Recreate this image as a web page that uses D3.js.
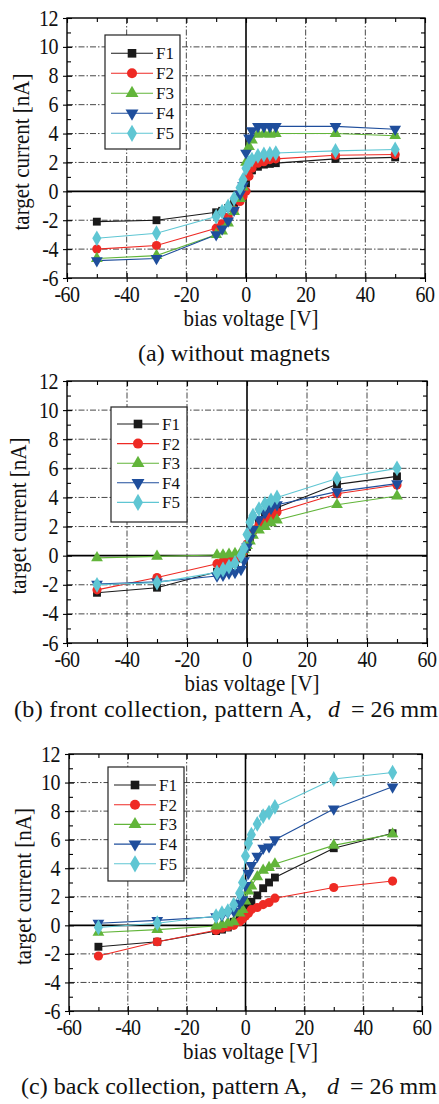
<!DOCTYPE html>
<html><head><meta charset="utf-8">
<script src="https://cdn.jsdelivr.net/npm/d3@7"></script>
<style>html,body{margin:0;padding:0;background:#fff;overflow:hidden}</style>
</head><body>
<script>
// ---- data ----
const voltages = [-50,-30,-10,-8,-6,-4,-2,-1,0,1,2,4,6,8,10,30,50];
const seriesNames = ["F1","F2","F3","F4","F5"];
const xTicks = [-60,-40,-20,0,20,40,60];
const yTicks = [-6,-4,-2,0,2,4,6,8,10,12];

// (a) without magnets
const a_F1 = [-2.1,-2.0,-1.45,-1.35,-1.15,-0.8,-0.35,-0.1,0.55,1.15,1.45,1.7,1.85,1.9,1.95,2.25,2.35];
const a_F2 = [-4.0,-3.75,-2.55,-2.25,-1.8,-1.3,-0.7,-0.35,0.0,1.05,1.6,1.95,2.05,2.2,2.25,2.5,2.55];
const a_F3 = [-4.65,-4.45,-3.0,-2.75,-2.2,-1.4,-0.5,0.3,2.0,3.1,3.55,3.95,4.0,3.95,4.0,4.0,3.85];
const a_F4 = [-4.8,-4.65,-3.0,-2.6,-2.05,-1.3,-0.2,0.4,2.65,3.7,4.2,4.5,4.5,4.5,4.5,4.5,4.3];
const a_F5 = [-3.25,-2.9,-1.75,-1.4,-1.05,-0.5,0.25,0.8,1.6,2.0,2.2,2.45,2.55,2.6,2.65,2.8,2.9];
// (b) front collection
const b_F1 = [-2.55,-2.2,-1.1,-0.95,-0.8,-0.55,-0.2,0.2,0.6,1.2,1.8,2.4,2.7,3.0,3.3,4.9,5.45];
const b_F2 = [-2.35,-1.5,-0.55,-0.4,-0.3,-0.2,-0.05,0.3,0.8,1.3,1.7,2.1,2.4,2.7,3.0,4.25,4.85];
const b_F3 = [-0.15,-0.05,0.05,0.05,0.1,0.15,0.25,0.4,0.7,1.0,1.4,1.75,2.0,2.25,2.45,3.5,4.1];
const b_F4 = [-1.95,-1.8,-1.4,-1.35,-1.2,-1.15,-0.95,-0.35,0.6,1.2,1.8,2.5,2.95,3.25,3.5,4.4,4.95];
const b_F5 = [-2.0,-1.85,-1.15,-0.95,-0.75,-0.5,0.0,0.5,1.45,2.3,2.75,3.2,3.55,3.8,4.0,5.3,6.0];
// (c) back collection
const c_F1 = [-1.5,-1.15,-0.4,-0.3,-0.15,0.25,0.5,0.7,1.2,1.4,1.65,2.1,2.6,3.0,3.35,5.4,6.45];
const c_F2 = [-2.15,-1.15,-0.35,-0.2,-0.1,0.0,0.25,0.45,0.65,0.85,1.1,1.25,1.45,1.6,1.9,2.65,3.1];
const c_F3 = [-0.5,-0.3,-0.05,0.05,0.15,0.25,0.85,1.1,1.7,2.4,2.75,3.4,3.85,4.05,4.3,5.6,6.4];
const c_F4 = [0.15,0.35,0.6,0.7,0.9,1.0,1.55,1.8,2.8,3.65,4.2,4.85,5.4,5.5,6.0,8.15,9.7];
const c_F5 = [-0.15,0.15,0.65,0.85,1.0,1.45,2.25,3.0,4.85,5.75,6.35,7.1,7.65,7.9,8.3,10.25,10.7];

const xLabel = "bias voltage [V]";
const yLabel = "target current [nA]";
const captionA = "(a) without magnets";
const captionB = "(b) front collection, pattern A,";
const captionC = "(c) back collection, pattern A,";
const captionD = "d";
const captionEq = "= 26 mm";

// ---- style / layout ----
const colors = ["#1a1a1a","#ee2a24","#62b53a","#1f4e9c","#5fc6d3"];
const shapes = [d3.symbolSquare, d3.symbolCircle, d3.symbolTriangle, d3.symbolTriangle, d3.symbolDiamond];
const rotations = [0,0,0,180,0];
const sizes = [62,66,60,60,72];
const FONT = "'Liberation Serif','Times New Roman',serif";
const SY = 1.12;

const W = 439, H = 1104;
const svg = d3.select("body").append("svg").attr("width",W).attr("height",H)
  .style("display","block").style("background","#fff");

const panels = [
  {data:[a_F1,a_F2,a_F3,a_F4,a_F5], l:67, r:425, t:18, b:278, lg:{x:105,y:35,w:75,h:114,row0:18.3,dy:20}, ylx:29},
  {data:[b_F1,b_F2,b_F3,b_F4,b_F5], l:67, r:427, t:381, b:643, lg:{x:111,y:407,w:76,h:115,row0:17,dy:19.6}, ylx:26},
  {data:[c_F1,c_F2,c_F3,c_F4,c_F5], l:69, r:422, t:754, b:1011, lg:{x:108,y:767,w:76,h:114,row0:18,dy:19.7}, ylx:31}
];

function stext(g, x, y, str, size, anchor, sy) {
  return g.append("text")
    .attr("transform", `translate(${x},${y}) scale(1,${sy||1})`)
    .attr("font-family", FONT).attr("font-size", size)
    .attr("text-anchor", anchor || "start").attr("fill", "#111").text(str);
}

panels.forEach(p => {
  const g = svg.append("g");
  const x = d3.scaleLinear().domain([-60,60]).range([p.l,p.r]);
  const y = d3.scaleLinear().domain([-6,12]).range([p.b,p.t]);

  // grid (dash-dot)
  const gx = [-40,-20,20,40], gy = [-4,-2,2,4,6,8,10];
  g.selectAll(".gx").data(gx).enter().append("line")
    .attr("x1",d=>x(d)).attr("x2",d=>x(d)).attr("y1",p.t).attr("y2",p.b)
    .attr("stroke","#333").attr("stroke-width",0.9).attr("stroke-dasharray","6,2,1.5,2");
  g.selectAll(".gy").data(gy).enter().append("line")
    .attr("y1",d=>y(d)).attr("y2",d=>y(d)).attr("x1",p.l).attr("x2",p.r)
    .attr("stroke","#333").attr("stroke-width",0.9).attr("stroke-dasharray","6,2,1.5,2");
  // zero lines
  g.append("line").attr("x1",x(0)).attr("x2",x(0)).attr("y1",p.t).attr("y2",p.b)
    .attr("stroke","#000").attr("stroke-width",1.6);
  g.append("line").attr("y1",y(0)).attr("y2",y(0)).attr("x1",p.l).attr("x2",p.r)
    .attr("stroke","#000").attr("stroke-width",1.6);

  // axes with d3 axis generators (ticks)
  const bottomMajor = d3.axisBottom(x).tickValues(xTicks).tickSizeInner(-5).tickSizeOuter(0).tickFormat("");
  const bottomOut = d3.axisBottom(x).tickValues(xTicks).tickSizeInner(4).tickSizeOuter(0).tickFormat("");
  const bottomMinor = d3.axisBottom(x).tickValues(d3.range(-50,60,20)).tickSizeInner(-4).tickSizeOuter(0).tickFormat("");
  const topMajor = d3.axisTop(x).tickValues(xTicks).tickSizeInner(-5).tickSizeOuter(0).tickFormat("");
  const topMinor = d3.axisTop(x).tickValues(d3.range(-50,60,20)).tickSizeInner(-4).tickSizeOuter(0).tickFormat("");
  const leftMajor = d3.axisLeft(y).tickValues(yTicks).tickSizeInner(-5).tickSizeOuter(0).tickFormat("");
  const leftOut = d3.axisLeft(y).tickValues(yTicks).tickSizeInner(4).tickSizeOuter(0).tickFormat("");
  const leftMinor = d3.axisLeft(y).tickValues(d3.range(-5,12,2)).tickSizeInner(-4).tickSizeOuter(0).tickFormat("");
  const rightMajor = d3.axisRight(y).tickValues(yTicks).tickSizeInner(-5).tickSizeOuter(0).tickFormat("");
  const rightMinor = d3.axisRight(y).tickValues(d3.range(-5,12,2)).tickSizeInner(-4).tickSizeOuter(0).tickFormat("");
  [[bottomMajor,`0,${p.b}`],[bottomOut,`0,${p.b}`],[bottomMinor,`0,${p.b}`],
   [topMajor,`0,${p.t}`],[topMinor,`0,${p.t}`],
   [leftMajor,`${p.l},0`],[leftOut,`${p.l},0`],[leftMinor,`${p.l},0`],
   [rightMajor,`${p.r},0`],[rightMinor,`${p.r},0`]].forEach(([ax,tr]) => {
    const a = g.append("g").attr("transform",`translate(${tr})`).call(ax);
    a.select(".domain").remove();
    a.selectAll("line").attr("stroke","#000").attr("stroke-width",1.1);
  });
  // frame
  g.append("rect").attr("x",p.l).attr("y",p.t).attr("width",p.r-p.l).attr("height",p.b-p.t)
    .attr("fill","none").attr("stroke","#000").attr("stroke-width",1.4);

  // tick labels
  xTicks.forEach(v => stext(g, x(v), p.b+24, String(v), 20, "middle", 1.15).attr("letter-spacing","-0.5"));
  yTicks.forEach(v => stext(g, p.l-9, y(v)+7.5, String(v), 20, "end", 1.15).attr("letter-spacing","-0.5"));

  // axis labels
  stext(g, (p.l+p.r)/2+5, p.b+48, xLabel, 21, "middle", SY);
  g.append("text")
    .attr("transform", `translate(${p.ylx},${(p.t+p.b)/2+4}) rotate(-90) scale(1,${SY})`)
    .attr("font-family", FONT).attr("font-size", 21).attr("text-anchor","middle")
    .attr("fill","#111").text(yLabel);

  // series
  const line = d3.line().x((d,i)=>x(voltages[i])).y(d=>y(d));
  p.data.forEach((vals, si) => {
    g.append("path").datum(vals).attr("d", line).attr("fill","none")
      .attr("stroke", colors[si]).attr("stroke-width", 1.1);
  });
  p.data.forEach((vals, si) => {
    const sym = d3.symbol().type(shapes[si]).size(sizes[si]);
    g.selectAll(null).data(vals).enter().append("path")
      .attr("d", sym)
      .attr("transform", (d,i) => `translate(${x(voltages[i])},${y(d)}) rotate(${rotations[si]})`)
      .attr("fill", colors[si]);
  });

  // legend
  const L = p.lg;
  g.append("rect").attr("x",L.x).attr("y",L.y).attr("width",L.w).attr("height",L.h)
    .attr("fill","#fff").attr("stroke","#222").attr("stroke-width",1.2);
  seriesNames.forEach((name, si) => {
    const yy = L.y + L.row0 + si*L.dy;
    g.append("line").attr("x1",L.x+6).attr("x2",L.x+48).attr("y1",yy).attr("y2",yy)
      .attr("stroke",colors[si]).attr("stroke-width",1.1);
    g.append("path").attr("d", d3.symbol().type(shapes[si]).size(sizes[si]*1.2)())
      .attr("transform",`translate(${L.x+27},${yy}) rotate(${rotations[si]})`)
      .attr("fill",colors[si]);
    stext(g, L.x+51, yy+6, name, 17, "start", 1);
  });
});

// captions
stext(svg, 138, 361, captionA, 24, "start", 1).attr("textLength",192).attr("lengthAdjust","spacing");
stext(svg, 14, 717, captionB, 24, "start", 1).attr("textLength",298).attr("lengthAdjust","spacing");
stext(svg, 328, 717, captionD, 24, "start", 1).attr("font-style","italic");
stext(svg, 351, 717, captionEq, 24, "start", 1);
stext(svg, 21, 1094, captionC, 24, "start", 1).attr("textLength",286).attr("lengthAdjust","spacing");
stext(svg, 327, 1094, captionD, 24, "start", 1).attr("font-style","italic");
stext(svg, 350, 1094, captionEq, 24, "start", 1);
</script>
</body></html>
